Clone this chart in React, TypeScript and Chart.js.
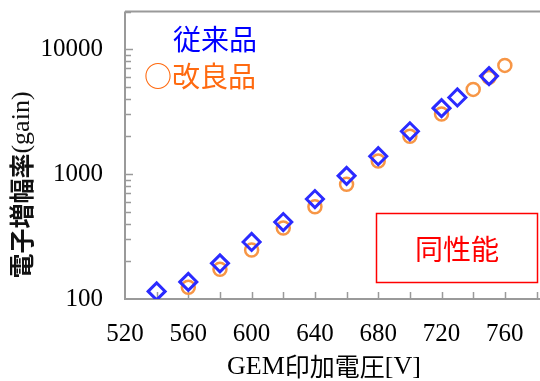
import React, { useEffect, useRef } from "react";
import { Chart, registerables } from "chart.js";

Chart.register(...registerables);

// GEM applied voltage [V] and electron gain for the two foil types
const conventionalVoltage = [540, 560, 580, 600, 620, 640, 660, 680, 700, 720, 730, 750];
const conventionalGain = [115, 137, 193, 286, 413, 631, 968, 1390, 2200, 3370, 4100, 6080];
const improvedVoltage = [560, 580, 600, 620, 640, 660, 680, 700, 720, 740, 750, 760];
const improvedGain = [124, 173, 247, 370, 548, 827, 1270, 2010, 3020, 4760, 5940, 7410];

const yMajorTicks = [100, 1000, 10000];
const xLabelStep = 40;

const SERIF = "'Liberation Serif', 'Times New Roman', serif";
const CJK = "'Noto Sans CJK JP', 'Noto Sans', sans-serif";
const AXIS_COLOR = "#9a9a9a";

const framePlugin = {
  id: "frameAndTicks",
  beforeDatasetsDraw(chart: any) {
    const { ctx, chartArea: a, scales } = chart;
    const xs = scales.x;
    const ys = scales.y;
    ctx.save();
    ctx.strokeStyle = AXIS_COLOR;
    ctx.lineWidth = 2;
    ctx.beginPath();
    ctx.moveTo(a.left, a.top);
    ctx.lineTo(a.right + 4, a.top);
    ctx.moveTo(a.left, a.top);
    ctx.lineTo(a.left, a.bottom);
    ctx.lineTo(a.right + 4, a.bottom);
    ctx.stroke();

    // inward ticks on the voltage axis, every 20 V
    ctx.lineWidth = 1.5;
    ctx.beginPath();
    for (let v = xs.min + 20; v <= xs.max; v += 20) {
      const px = Math.round(xs.getPixelForValue(v)) + 0.5;
      ctx.moveTo(px, a.bottom);
      ctx.lineTo(px, a.bottom - 7);
    }
    // inward log ticks on the gain axis
    for (let decade = 100; decade <= ys.max; decade *= 10) {
      for (let m = 1; m <= 9; m++) {
        const v = decade * m;
        if (v <= ys.min || v > ys.max) continue;
        const py = Math.round(ys.getPixelForValue(v)) + 0.5;
        ctx.moveTo(a.left, py);
        ctx.lineTo(a.left + (m === 1 ? 8 : 6), py);
      }
    }
    ctx.stroke();
    ctx.restore();
  },
};

const textPlugin = {
  id: "chartTexts",
  afterDraw(chart: any) {
    const { ctx } = chart;
    ctx.save();
    ctx.textBaseline = "middle";

    // legend texts
    ctx.font = `28px ${CJK}`;
    ctx.textAlign = "left";
    ctx.fillStyle = "#0000ff";
    ctx.fillText("従来品", 173, 39);
    ctx.fillStyle = "#ff6a10";
    ctx.fillText("○改良品", 144, 76);

    // boxed note
    ctx.strokeStyle = "#ff0000";
    ctx.lineWidth = 1.5;
    ctx.strokeRect(376.5, 213.5, 161, 69);
    ctx.fillStyle = "#ff0000";
    ctx.textAlign = "center";
    ctx.fillText("同性能", 457, 249);

    // x axis title
    ctx.fillStyle = "#000";
    const xa = "GEM";
    const xb = "印加電圧";
    const xc = "[V]";
    ctx.font = `26px ${SERIF}`;
    const wa = ctx.measureText(xa).width;
    const wc = ctx.measureText(xc).width;
    ctx.font = `25px ${CJK}`;
    const wb = ctx.measureText(xb).width;
    const x0 = 324 - (wa + wb + wc) / 2;
    ctx.textAlign = "left";
    ctx.font = `26px ${SERIF}`;
    ctx.fillText(xa, x0, 367);
    ctx.font = `25px ${CJK}`;
    ctx.fillText(xb, x0 + wa, 366);
    ctx.font = `26px ${SERIF}`;
    ctx.fillText(xc, x0 + wa + wb, 367);

    // y axis title, rotated
    ctx.translate(21.5, 185);
    ctx.rotate(-Math.PI / 2);
    ctx.fillStyle = "#111";
    const ya = "電子増幅率";
    const yb = "(gain)";
    ctx.font = `bold 25px ${CJK}`;
    const wya = ctx.measureText(ya).width;
    ctx.font = `26px ${SERIF}`;
    const wyb = ctx.measureText(yb).width;
    const y0 = -(wya + wyb) / 2;
    ctx.font = `bold 25px ${CJK}`;
    ctx.fillText(ya, y0, 0);
    ctx.font = `26px ${SERIF}`;
    ctx.fillText(yb, y0 + wya, 1);
    ctx.restore();
  },
};

export default function App() {
  const canvasRef = useRef<HTMLCanvasElement | null>(null);

  useEffect(() => {
    const canvas = canvasRef.current;
    if (!canvas) return;
    const chart = new Chart(canvas, {
      type: "scatter",
      data: {
        datasets: [
          {
            label: "従来品",
            data: conventionalVoltage.map((v, i) => ({ x: v, y: conventionalGain[i] })),
            pointStyle: "rectRot",
            pointRadius: 8.5,
            pointHoverRadius: 8.5,
            borderWidth: 3,
            borderColor: "#2b2bff",
            backgroundColor: "rgba(0,0,0,0)",
          },
          {
            label: "改良品",
            data: improvedVoltage.map((v, i) => ({ x: v, y: improvedGain[i] })),
            pointStyle: "circle",
            pointRadius: 6.5,
            pointHoverRadius: 6.5,
            borderWidth: 2.5,
            borderColor: "#f79646",
            backgroundColor: "rgba(0,0,0,0)",
          },
        ],
      },
      options: {
        responsive: false,
        animation: false,
        events: [],
        layout: { padding: { top: 11, right: 4, left: 0, bottom: 0 } },
        plugins: {
          legend: { display: false },
          tooltip: { enabled: false },
        },
        scales: {
          x: {
            type: "linear",
            min: 520,
            max: 780,
            grid: { display: false, drawTicks: false },
            border: { display: false },
            afterFit: (s: any) => {
              s.height = 82;
              s.paddingLeft = 0;
              s.paddingRight = 0;
            },
            ticks: {
              stepSize: 20,
              autoSkip: false,
              maxRotation: 0,
              padding: 20,
              color: "#000",
              font: { family: SERIF, size: 25 },
              callback: (v: any) =>
                Number(v) % xLabelStep === 0 && Number(v) < 780 ? String(v) : "",
            },
          },
          y: {
            type: "logarithmic",
            min: 100,
            max: 20000,
            grid: { display: false, drawTicks: false },
            border: { display: false },
            afterBuildTicks: (s: any) => {
              s.ticks = yMajorTicks.map((v) => ({ value: v }));
            },
            afterFit: (s: any) => {
              s.width = 125;
              s.paddingTop = 0;
              s.paddingBottom = 0;
            },
            ticks: {
              padding: 22,
              color: "#000",
              font: { family: SERIF, size: 25 },
              callback: (v: any) => String(v),
            },
          },
        },
      },
      plugins: [framePlugin, textPlugin],
    });
    return () => chart.destroy();
  }, []);

  return (
    <div
      style={{
        position: "fixed",
        left: 0,
        top: 0,
        width: 540,
        height: 381,
        overflow: "hidden",
        background: "#fff",
      }}
    >
      <canvas ref={canvasRef} width={548} height={381} style={{ width: 548, height: 381 }} />
    </div>
  );
}
